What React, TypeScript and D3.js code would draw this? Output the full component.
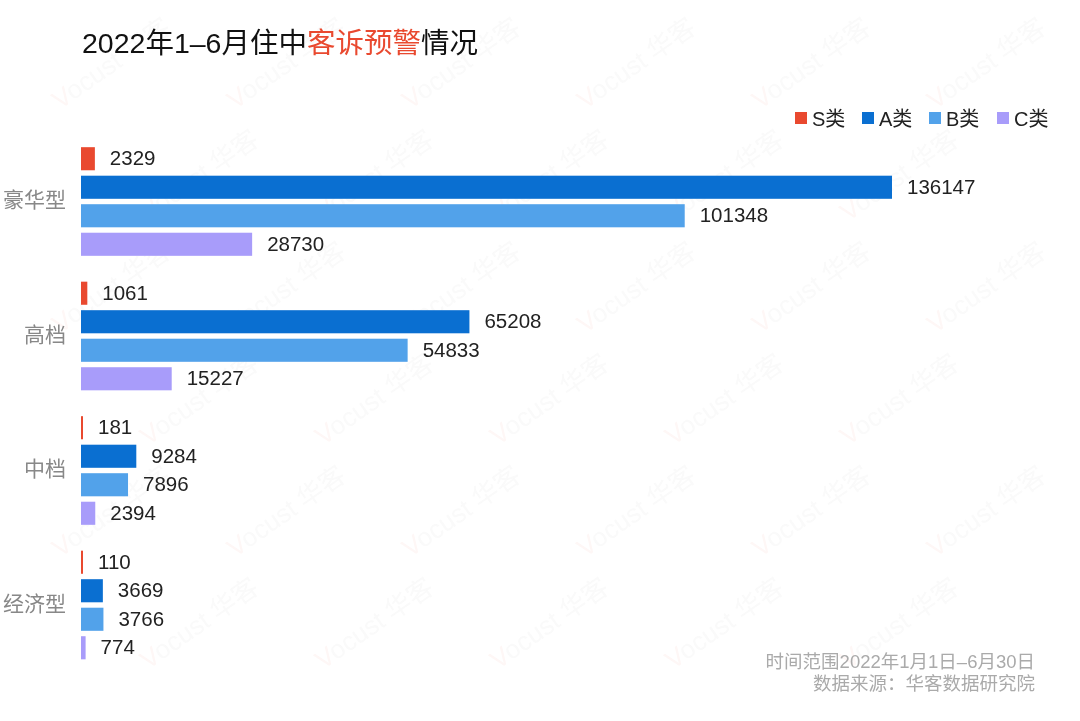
import React from "react";
import * as d3 from "d3";

const categories = ["豪华型", "高档", "中档", "经济型"];
const seriesNames = ["S类", "A类", "B类", "C类"];
const seriesColors = ["#e9492f", "#0a6fd1", "#52a2ea", "#a89cfa"];
const sValues = [2329, 1061, 181, 110];
const aValues = [136147, 65208, 9284, 3669];
const bValues = [101348, 54833, 7896, 3766];
const cValues = [28730, 15227, 2394, 774];
const seriesValues = [sValues, aValues, bValues, cValues];

const W = 1080;
const H = 721;
const FONT = "Helvetica, Arial, 'Noto Sans CJK SC', sans-serif";

export default function App() {
  const x = d3.scaleLinear().domain([0, 136147]).range([81, 892]);
  const y0 = d3
    .scaleBand<string>()
    .domain(categories)
    .range([134.25, 672.25])
    .paddingInner(0.152)
    .paddingOuter(0.076);
  const y1 = d3
    .scaleBand<string>()
    .domain(seriesNames)
    .range([0, y0.bandwidth()])
    .paddingInner(0.19)
    .paddingOuter(0.095);

  const legendX = [795, 862, 929, 997];

  const marks: { x: number; y: number }[] = [];
  for (let r = 0; r < 8; r++) {
    for (let c = 0; c < 8; c++) {
      const mx = 60 + c * 175 + (r % 2) * 88;
      const my = 110 + r * 112;
      if (mx >= 8 && mx <= W - 135 && my >= 95 && my <= H - 8) marks.push({ x: mx, y: my });
    }
  }

  return (
    <svg width={W} height={H} style={{ display: "block", position: "absolute", left: 0, top: 0 }} fontFamily={FONT}>
      <rect width={W} height={H} fill="#ffffff" />
      {/* watermark */}
      <g opacity={0.045}>
        {marks.map((m, i) => (
          <text
            key={i}
            x={m.x}
            y={m.y}
            fontSize={26}
            fill="#888"
            transform={`rotate(-35 ${m.x} ${m.y})`}
          >
            <tspan fill="#e9492f">V</tspan>ocust 华客
          </text>
        ))}
      </g>

      {/* title */}
      <text x={82} y={53} fontSize={28.5} fill="#111">
        2022年1–6月住中<tspan fill="#e9492f">客诉预警</tspan>情况
      </text>

      {/* legend */}
      {seriesNames.map((s, i) => (
        <g key={s}>
          <rect x={legendX[i]} y={112} width={12} height={12} fill={seriesColors[i]} />
          <text x={legendX[i] + 17} y={125.5} fontSize={20} fill="#222">
            {s}
          </text>
        </g>
      ))}

      {/* bars */}
      {categories.map((cat, ci) => {
        const gy = y0(cat)!;
        return (
          <g key={cat}>
            <text
              x={66}
              y={gy + y0.bandwidth() / 2 - 2}
              fontSize={21}
              fill="#888"
              textAnchor="end"
              dominantBaseline="central"
            >
              {cat}
            </text>
            {seriesNames.map((s, si) => {
              const v = seriesValues[si][ci];
              const by = gy + y1(s)!;
              const w = Math.max(2, x(v) - x(0));
              return (
                <g key={s}>
                  <rect x={x(0)} y={by} width={w} height={y1.bandwidth()} fill={seriesColors[si]} />
                  <text
                    x={x(0) + w + 15}
                    y={by + y1.bandwidth() / 2 - 1}
                    fontSize={20.5}
                    fill="#222"
                    dominantBaseline="central"
                  >
                    {v}
                  </text>
                </g>
              );
            })}
          </g>
        );
      })}

      {/* footer */}
      <text x={1035} y={668} fontSize={18.5} fill="#aaa" textAnchor="end">
        时间范围2022年1月1日–6月30日
      </text>
      <text x={1035} y={690} fontSize={18.5} fill="#aaa" textAnchor="end">
        数据来源：华客数据研究院
      </text>
    </svg>
  );
}
